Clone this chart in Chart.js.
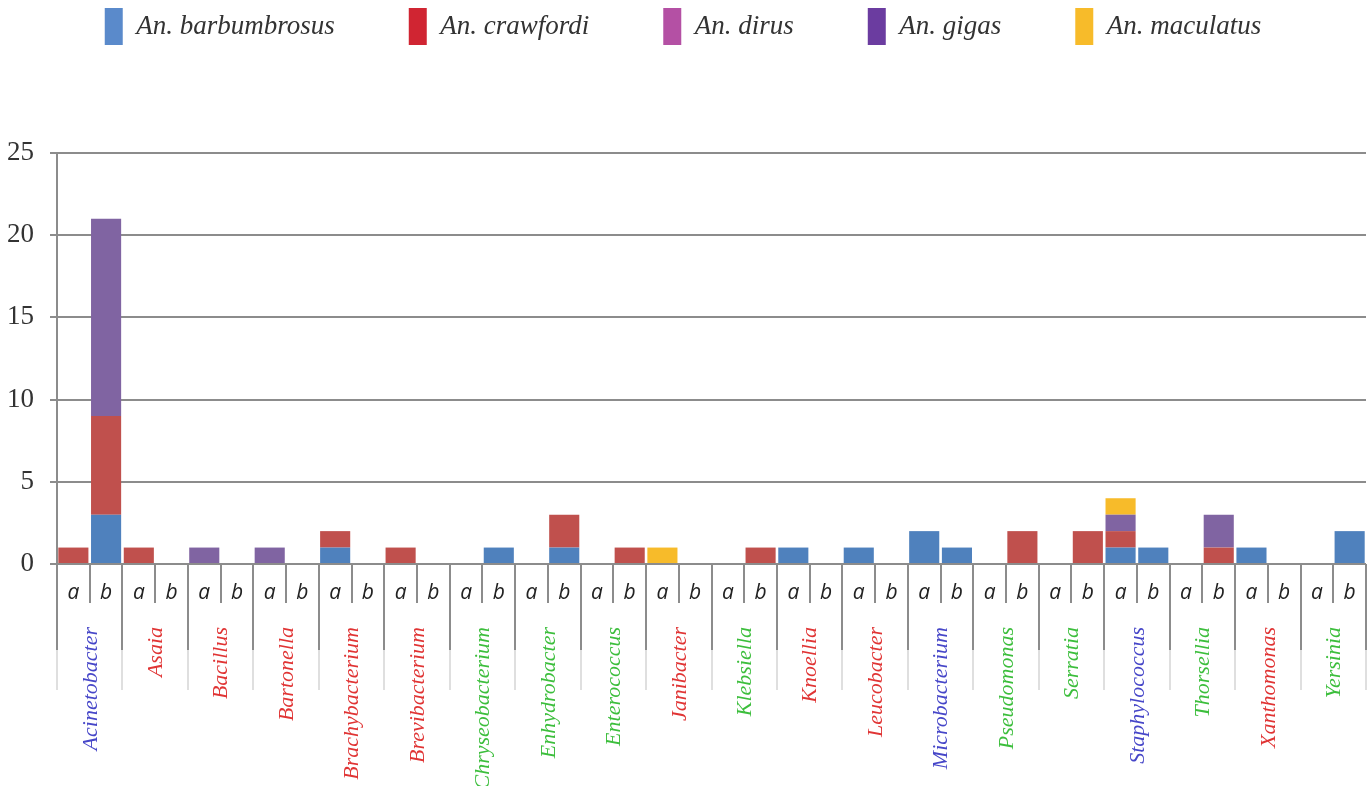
<!DOCTYPE html>
<html>
<head>
<meta charset="utf-8">
<script src="https://cdn.jsdelivr.net/npm/chart.js@4.4.1/dist/chart.umd.min.js"></script>
<style>
  html, body { margin: 0; padding: 0; background: #fff; }
  #wrap { width: 1372px; height: 786px; position: relative; }
</style>
</head>
<body>
<div id="wrap"><canvas id="chart"></canvas></div>
<script>
// genera (each has an "a" and a "b" bar)
const genera = ["Acinetobacter", "Asaia", "Bacillus", "Bartonella", "Brachybacterium",
  "Brevibacterium", "Chryseobacterium", "Enhydrobacter", "Enterococcus", "Janibacter",
  "Klebsiella", "Knoellia", "Leucobacter", "Microbacterium", "Pseudomonas",
  "Serratia", "Staphylococcus", "Thorsellia", "Xanthomonas", "Yersinia"];
// label group: 0 = blue, 1 = red, 2 = green
const generaGroup = [0, 1, 1, 1, 1, 1, 2, 2, 2, 1, 2, 1, 1, 0, 2, 2, 0, 2, 1, 2];
const subLabels = ["a", "b"];

const speciesNames = ["An. barbumbrosus", "An. crawfordi", "An. dirus", "An. gigas", "An. maculatus"];

// counts per bar, 40 bars = genus a, genus b ...
const barbumbrosus = [0,3, 0,0, 0,0, 0,0, 1,0, 0,0, 0,1, 0,1, 0,0, 0,0, 0,0, 1,0, 1,0, 2,1, 0,0, 0,0, 1,1, 0,0, 1,0, 0,2];
const crawfordi    = [1,6, 1,0, 0,0, 0,0, 1,0, 1,0, 0,0, 0,2, 0,1, 0,0, 0,1, 0,0, 0,0, 0,0, 0,2, 0,2, 1,0, 0,1, 0,0, 0,0];
const dirus        = [0,0, 0,0, 0,0, 0,0, 0,0, 0,0, 0,0, 0,0, 0,0, 0,0, 0,0, 0,0, 0,0, 0,0, 0,0, 0,0, 0,0, 0,0, 0,0, 0,0];
const gigas        = [0,12, 0,0, 1,0, 1,0, 0,0, 0,0, 0,0, 0,0, 0,0, 0,0, 0,0, 0,0, 0,0, 0,0, 0,0, 0,0, 1,0, 0,2, 0,0, 0,0];
const maculatus    = [0,0, 0,0, 0,0, 0,0, 0,0, 0,0, 0,0, 0,0, 0,0, 1,0, 0,0, 0,0, 0,0, 0,0, 0,0, 0,0, 1,0, 0,0, 0,0, 0,0];

const yTicks = [0, 5, 10, 15, 20, 25];

const barColors = ["#4F81BD", "#C0504D", "#B45BA8", "#8064A2", "#F7BB2A"];
const legendColors = ["#5A8ACB", "#D02532", "#B450A4", "#6B3CA0", "#F7BB2A"];
const groupColors = ["#4646C8", "#E03434", "#3CBE3C"];

// build the 40 x labels
const labels = [];
genera.forEach(g => subLabels.forEach(s => labels.push(g + " " + s)));

const seriesData = [barbumbrosus, crawfordi, dirus, gigas, maculatus];
const datasets = seriesData.map((d, i) => ({
  label: speciesNames[i],
  data: d,
  backgroundColor: barColors[i],
  borderWidth: 0,
  barPercentage: 1.0,
  categoryPercentage: 0.92
}));

const AXIS = "#8C8C8C";
const LEGEND_PAD = 74;

// draws the two level category axis under the plot
const groupAxis = {
  id: "groupAxis",
  beforeInit(chart) {
    const lg = chart.legend;
    const fit = lg.fit;
    lg.fit = function () {
      fit.bind(lg)();
      this.height += 32;
    };
    // wide horizontal padding between items, but keep boxes near the top
    const draw = lg.draw;
    lg.draw = function () {
      const ctx = chart.ctx;
      ctx.save();
      ctx.translate(0, 8 - LEGEND_PAD);
      draw.apply(lg, arguments);
      ctx.restore();
    };
  },
  afterDraw(chart) {
    const ctx = chart.ctx;
    const x = chart.scales.x;
    const area = chart.chartArea;
    const bottom = area.bottom;
    const n = labels.length;
    const step = x.getPixelForValue(1) - x.getPixelForValue(0);
    ctx.save();
    for (let i = 0; i <= n; i++) {
      let px;
      if (i === 0) px = area.left;
      else if (i === n) px = area.right;
      else px = x.getPixelForValue(i) - step / 2;
      px = Math.round(px);
      ctx.beginPath();
      ctx.strokeStyle = AXIS;
      ctx.lineWidth = 2;
      ctx.moveTo(px, bottom);
      ctx.lineTo(px, bottom + (i % 2 === 0 ? 86 : 39));
      ctx.stroke();
      if (i % 2 === 0) {
        ctx.beginPath();
        ctx.strokeStyle = "#D4D4D4";
        ctx.lineWidth = 1.5;
        ctx.moveTo(px, bottom + 86);
        ctx.lineTo(px, bottom + 126);
        ctx.stroke();
      }
    }
    // a / b labels
    ctx.fillStyle = "#222";
    ctx.font = "italic 21px 'Open Sans'";
    ctx.textAlign = "center";
    ctx.textBaseline = "middle";
    for (let i = 0; i < n; i++) {
      ctx.fillText(subLabels[i % 2], x.getPixelForValue(i), bottom + 29);
    }
    // genus labels, rotated
    ctx.font = "italic 22px 'Liberation Serif'";
    genera.forEach((g, k) => {
      const cx = (x.getPixelForValue(2 * k) + x.getPixelForValue(2 * k + 1)) / 2;
      ctx.save();
      ctx.translate(cx + 1, bottom + 63);
      ctx.rotate(-Math.PI / 2);
      ctx.textAlign = "right";
      ctx.textBaseline = "middle";
      ctx.fillStyle = groupColors[generaGroup[k]];
      ctx.fillText(g, 0, 0);
      ctx.restore();
    });
    ctx.restore();
  }
};

new Chart(document.getElementById("chart"), {
  type: "bar",
  data: { labels: labels, datasets: datasets },
  options: {
    responsive: true,
    maintainAspectRatio: false,
    animation: false,
    layout: { padding: { left: 0, right: 6, top: 0, bottom: 0 } },
    plugins: {
      tooltip: { enabled: false },
      legend: {
        position: "top",
        labels: {
          boxWidth: 18,
          boxHeight: 37,
          padding: LEGEND_PAD,
          color: "#333",
          font: { family: "'Liberation Serif'", size: 27, style: "italic" },
          generateLabels(chart) {
            return chart.data.datasets.map((ds, i) => ({
              text: ds.label,
              fillStyle: legendColors[i],
              strokeStyle: legendColors[i],
              lineWidth: 0,
              datasetIndex: i,
              hidden: false,
              fontColor: "#333"
            }));
          }
        }
      }
    },
    scales: {
      x: {
        stacked: true,
        ticks: { display: false },
        grid: { display: false },
        border: { display: false },
        afterFit(s) { s.height = 222; }
      },
      y: {
        stacked: true,
        min: 0,
        max: 25,
        afterBuildTicks(s) { s.ticks = yTicks.map(v => ({ value: v })); },
        ticks: {
          color: "#333",
          padding: 16,
          font: { family: "'Liberation Serif'", size: 27 }
        },
        grid: { color: AXIS, lineWidth: 2, tickLength: 7 },
        border: { color: AXIS, width: 2 },
        afterFit(s) { s.width = 57; }
      }
    }
  },
  plugins: [groupAxis]
});
</script>
</body>
</html>
